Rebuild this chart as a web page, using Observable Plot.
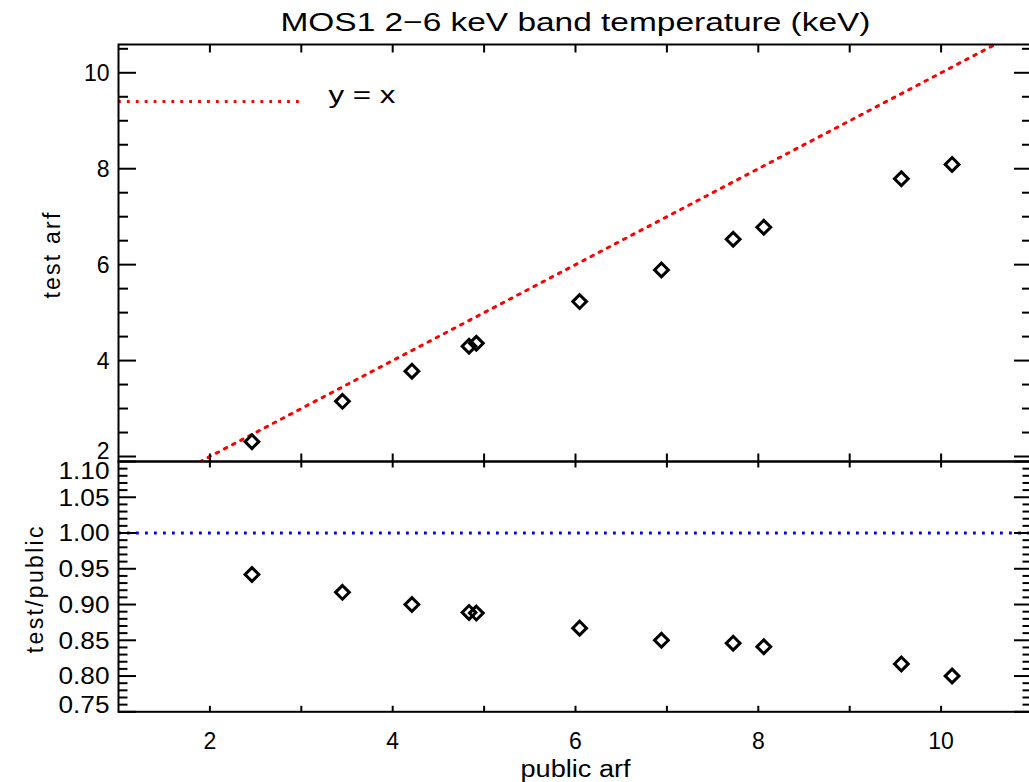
<!DOCTYPE html>
<html><head><meta charset="utf-8">
<script src="https://cdn.jsdelivr.net/npm/d3@7"></script>
<script src="https://cdn.jsdelivr.net/npm/@observablehq/plot@0.6"></script>
<style>
html,body{margin:0;padding:0;background:#fff;overflow:hidden;}
#chart{position:relative;width:1029px;height:782px;}
#chart svg{position:absolute;left:0;top:0;overflow:hidden;}
</style></head><body><div id="chart"></div>
<script>
// ---- data ----
const publicArf = [2.46, 3.45, 4.21, 4.835, 4.915, 6.045, 6.94, 7.725, 8.06, 9.565, 10.12];
const testArf   = [2.31, 3.15, 3.78, 4.30, 4.36, 5.23, 5.89, 6.53, 6.78, 7.79, 8.09];
const ratio     = [0.942, 0.917, 0.900, 0.889, 0.888, 0.867, 0.850, 0.846, 0.841, 0.817, 0.800];

const titleText = "MOS1 2\u22126 keV band temperature (keV)";
const xTitle = "public arf";
const topYTitle = "test arf";
const bottomYTitle = "test/public";
const legendText = "y = x";

const xTickLabels = [2, 4, 6, 8, 10];
const xTicks = [2, 3, 4, 5, 6, 7, 8, 9, 10];
const topYTickLabels = [2, 4, 6, 8, 10];
const topYMinor = [2.5, 3, 3.5, 4.5, 5, 5.5, 6.5, 7, 7.5, 8.5, 9, 9.5, 10.5];
const bottomYTickLabels = [0.75, 0.80, 0.85, 0.90, 0.95, 1.00, 1.05, 1.10];
const bottomYMinor = d3.range(76, 110).filter(v => v % 5 !== 0).map(v => v / 100);
const identityEnds = [1, 11];
const unityRatio = [1.0];
const legendLineY = 9.40, legendX1 = 1, legendX2 = 3;

const points = publicArf.map((x, i) => ({x, test: testArf[i], ratio: ratio[i]}));

// ---- layout ----
const W = 1029, H = 782;
const mL = 118, mR = -3, top1 = 44, divY = 461, bot2 = 711.3;
const FONT = "Liberation Sans, Arial, sans-serif";
const FS = 23;
const xScale = {domain: [1, 11]};

function tickAxesY(major, minor, majLen, minLen) {
  const o = {fill: "none", stroke: "black", strokeWidth: 2, label: null};
  return [
    Plot.axisY(major, {...o, anchor: "left", tickSize: -majLen}),
    Plot.axisY(minor, {...o, anchor: "left", tickSize: -minLen}),
    Plot.axisY(major, {...o, anchor: "right", tickSize: -(majLen + 1)}),
    Plot.axisY(minor, {...o, anchor: "right", tickSize: -(minLen + 1)})
  ];
}
function tickAxesX(len) {
  const o = {fill: "none", stroke: "black", strokeWidth: 2, label: null};
  return [
    Plot.axisX(xTicks, {...o, anchor: "top", tickSize: -len}),
    Plot.axisX(xTicks, {...o, anchor: "bottom", tickSize: -len})
  ];
}
const txt = {fontSize: FS, fill: "black", lineAnchor: "middle"};
const diamond = {symbol: "diamond2", r: 6.2, stroke: "black", strokeWidth: 3, fill: "none", strokeLinejoin: "miter"};

const topPlot = Plot.plot({
  width: W, height: H,
  marginLeft: mL, marginRight: mR, marginTop: top1, marginBottom: H - divY,
  style: {background: "transparent", fontFamily: FONT, overflow: "hidden"},
  x: xScale,
  y: {domain: [1.896, 10.59]},
  marks: [
    Plot.line(identityEnds, {x: d => d, y: d => d, stroke: "red", strokeWidth: 3, strokeDasharray: "2.6 6.6", clip: true}),
    Plot.ruleY([legendLineY], {x1: legendX1, x2: legendX2, stroke: "red", strokeWidth: 3, strokeDasharray: "2.8 6.1"}),
    Plot.text([legendText], {...txt, frameAnchor: "top-left", dx: 210, dy: 51.5, textAnchor: "start"}),
    Plot.dot(points, {x: "x", y: "test", ...diamond}),
    ...tickAxesY(topYTickLabels, topYMinor, 18, 10),
    ...tickAxesX(7.5),
    Plot.frame({stroke: "black", strokeWidth: 2}),
    Plot.text(topYTickLabels.filter(v => v !== 2), {...txt, y: d => d, text: d => String(d), frameAnchor: "left", textAnchor: "end", dx: -9, dy: 1}),
    Plot.text(topYTickLabels.filter(v => v === 2), {...txt, y: d => d, text: d => String(d), frameAnchor: "left", textAnchor: "end", dx: -9, dy: -4.5}),
    Plot.text([topYTitle], {...txt, frameAnchor: "left", textAnchor: "middle", dx: -65.5, dy: 1.5, rotate: -90}),
    Plot.text([titleText], {...txt, fontSize: 26, frameAnchor: "top", dy: -21.6})
  ]
});

const fmt = d3.format(".2f");
const bottomPlot = Plot.plot({
  width: W, height: H,
  marginLeft: mL, marginRight: mR, marginTop: divY, marginBottom: H - bot2,
  style: {background: "white", fontFamily: FONT, overflow: "hidden"},
  x: xScale,
  y: {domain: [0.75, 1.10]},
  marks: [
    Plot.ruleY(unityRatio, {stroke: "blue", strokeWidth: 3, strokeDasharray: "2.8 6.2"}),
    Plot.dot(points, {x: "x", y: "ratio", ...diamond}),
    ...tickAxesY(bottomYTickLabels, bottomYMinor, 18, 9.5),
    ...tickAxesX(5.5),
    Plot.frame({stroke: "black", strokeWidth: 2}),
    Plot.text(bottomYTickLabels.filter(v => v > 0.76 && v < 1.09), {...txt, y: d => d, text: d => fmt(d), frameAnchor: "left", textAnchor: "end", dx: -9, dy: 1}),
    Plot.text(bottomYTickLabels.filter(v => v > 1.09), {...txt, y: d => d, text: d => fmt(d), frameAnchor: "left", textAnchor: "end", dx: -9, dy: 10}),
    Plot.text(bottomYTickLabels.filter(v => v < 0.76), {...txt, y: d => d, text: d => fmt(d), frameAnchor: "left", textAnchor: "end", dx: -9, dy: -6.5}),
    Plot.text(xTickLabels, {...txt, x: d => d, text: d => String(d), frameAnchor: "bottom", dy: 30}),
    Plot.text([bottomYTitle], {...txt, frameAnchor: "left", textAnchor: "middle", dx: -83, dy: 2, rotate: -90}),
    Plot.text([xTitle], {...txt, frameAnchor: "bottom", dy: 58})
  ]
});

const chart = document.getElementById("chart");
chart.appendChild(bottomPlot);
chart.appendChild(topPlot);

// widen texts to the reference's (wider) font widths
const lengths = {};
lengths[titleText] = 590;
lengths[legendText] = 67;
lengths[xTitle] = 110;
bottomYTickLabels.forEach(v => lengths[fmt(v)] = 51);
const spread = {};
spread[topYTitle] = 88;
spread[bottomYTitle] = 129;
function fit(svg) {
  svg.querySelectorAll("text").forEach(t => {
    const s = t.textContent;
    if (lengths[s]) {
      t.setAttribute("textLength", lengths[s]);
      t.setAttribute("lengthAdjust", "spacingAndGlyphs");
    } else if (spread[s]) {
      const nat = t.getComputedTextLength();
      const ls = (spread[s] - nat) / s.length;
      t.style.letterSpacing = ls + "px";
    }
  });
}
fit(topPlot); fit(bottomPlot);
</script></body></html>
